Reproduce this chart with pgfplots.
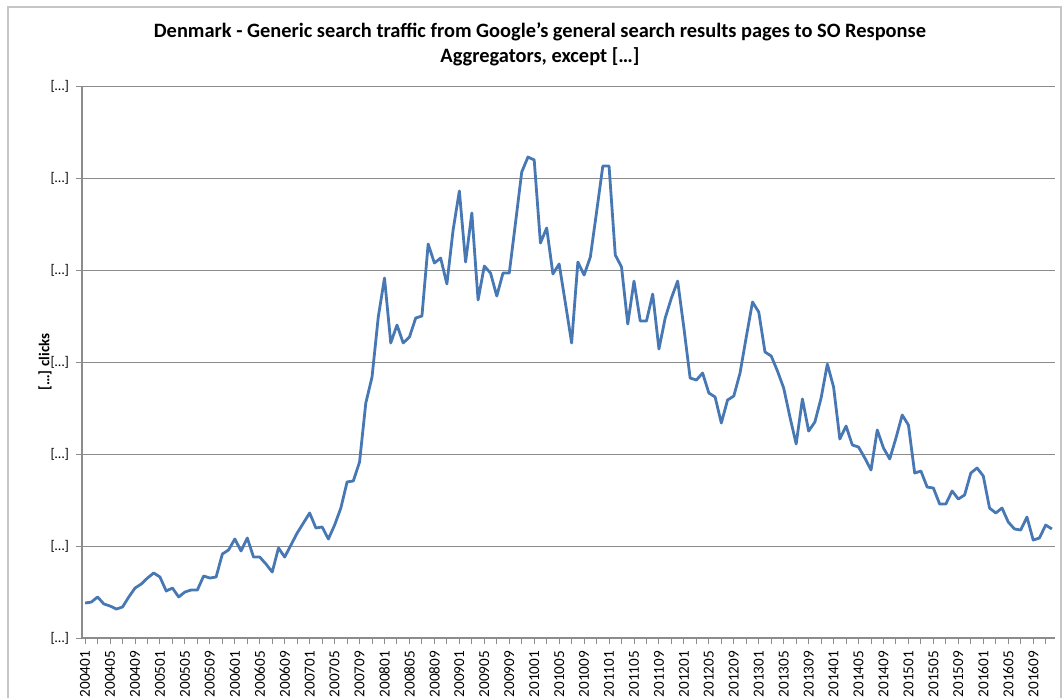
\documentclass[border=0pt]{standalone}
\usepackage{fontspec}
\setmainfont{Carlito}
\usepackage{pgfplots}
\pgfplotsset{compat=1.18}
\usepackage{pgfplotstable}
\definecolor{ser}{HTML}{4778B3}
\definecolor{gridc}{HTML}{8C8C8C}
\pgfplotstableread{
i v
0 0.380
1 0.391
2 0.446
3 0.370
4 0.348
5 0.315
6 0.337
7 0.446
8 0.543
9 0.587
10 0.652
11 0.707
12 0.663
13 0.511
14 0.543
15 0.446
16 0.500
17 0.522
18 0.522
19 0.674
20 0.652
21 0.663
22 0.913
23 0.957
24 1.076
25 0.946
26 1.087
27 0.880
28 0.880
29 0.804
30 0.717
31 0.978
32 0.880
33 1.011
34 1.141
35 1.250
36 1.359
37 1.196
38 1.207
39 1.076
40 1.228
41 1.413
42 1.696
43 1.707
44 1.913
45 2.554
46 2.837
47 3.489
48 3.913
49 3.207
50 3.402
51 3.207
52 3.272
53 3.478
54 3.500
55 4.283
56 4.076
57 4.130
58 3.848
59 4.435
60 4.859
61 4.087
62 4.620
63 3.674
64 4.043
65 3.967
66 3.717
67 3.967
68 3.967
69 4.511
70 5.065
71 5.228
72 5.196
73 4.293
74 4.457
75 3.957
76 4.065
77 3.641
78 3.207
79 4.087
80 3.946
81 4.141
82 4.630
83 5.130
84 5.130
85 4.163
86 4.033
87 3.413
88 3.880
89 3.446
90 3.446
91 3.739
92 3.141
93 3.478
94 3.696
95 3.880
96 3.370
97 2.826
98 2.804
99 2.880
100 2.663
101 2.620
102 2.337
103 2.587
104 2.630
105 2.880
106 3.272
107 3.652
108 3.543
109 3.109
110 3.065
111 2.902
112 2.717
113 2.402
114 2.109
115 2.598
116 2.250
117 2.348
118 2.609
119 2.978
120 2.728
121 2.163
122 2.304
123 2.098
124 2.076
125 1.957
126 1.826
127 2.261
128 2.065
129 1.946
130 2.174
131 2.424
132 2.315
133 1.793
134 1.815
135 1.641
136 1.630
137 1.457
138 1.457
139 1.598
140 1.511
141 1.554
142 1.793
143 1.848
144 1.761
145 1.413
146 1.359
147 1.413
148 1.261
149 1.185
150 1.174
151 1.315
152 1.065
153 1.087
154 1.228
155 1.185
}\data
\begin{document}
\begin{tikzpicture}
\useasboundingbox (-41pt,-29.5pt) rectangle (490.5pt,319pt);
\draw[gray!45, line width=0.6pt] (-37pt,-60pt) rectangle (489.5pt,315.5pt);
\begin{axis}[
  at={(0,0)}, anchor=south west,
  scale only axis, width=486.5pt, height=276pt,
  xmin=-0.5, xmax=155.5, ymin=0, ymax=6,
  axis x line*=bottom, axis y line*=left,
  axis line style={gridc, line width=0.6pt, -},
  ytick={0,1,2,3,4,5,6},
  yticklabels={{[…]},{[…]},{[…]},{[…]},{[…]},{[…]},{[…]}},
  ymajorgrids,
  major grid style={gridc, line width=0.5pt},
  xtick={0,4,...,152},
  xticklabels={200401,200405,200409,200501,200505,200509,200601,200605,200609,200701,200705,200709,200801,200805,200809,200901,200905,200909,201001,201005,201009,201101,201105,201109,201201,201205,201209,201301,201305,201309,201401,201405,201409,201501,201505,201509,201601,201605,201609},
  minor xtick={2,6,...,154},
  tick align=outside,
  major tick length=3pt, minor tick length=3pt,
  tick style={gridc, line width=0.5pt},
  x tick label style={rotate=90, anchor=east, font=\fontsize{7.6}{9}\selectfont},
  y tick label style={font=\fontsize{7}{9}\selectfont},
  ylabel={\textbf{[…]\hspace{2pt}clicks}},
  ylabel style={at={(axis description cs:-0.038,0.5)}, anchor=center, font=\fontsize{7.5}{9}\selectfont},
  title={Denmark - Generic search traffic from Google's general search results pages to SO Response\\Aggregators, except […]},
  title style={at={(axis description cs:0.4707,1)}, anchor=center, yshift=15pt, align=center, font=\bfseries\fontsize{10.2}{12.5}\selectfont},
]
\addplot[ser, line width=1.4pt, mark=none, line join=round] table[x=i, y=v] {\data};
\end{axis}
\end{tikzpicture}
\end{document}
